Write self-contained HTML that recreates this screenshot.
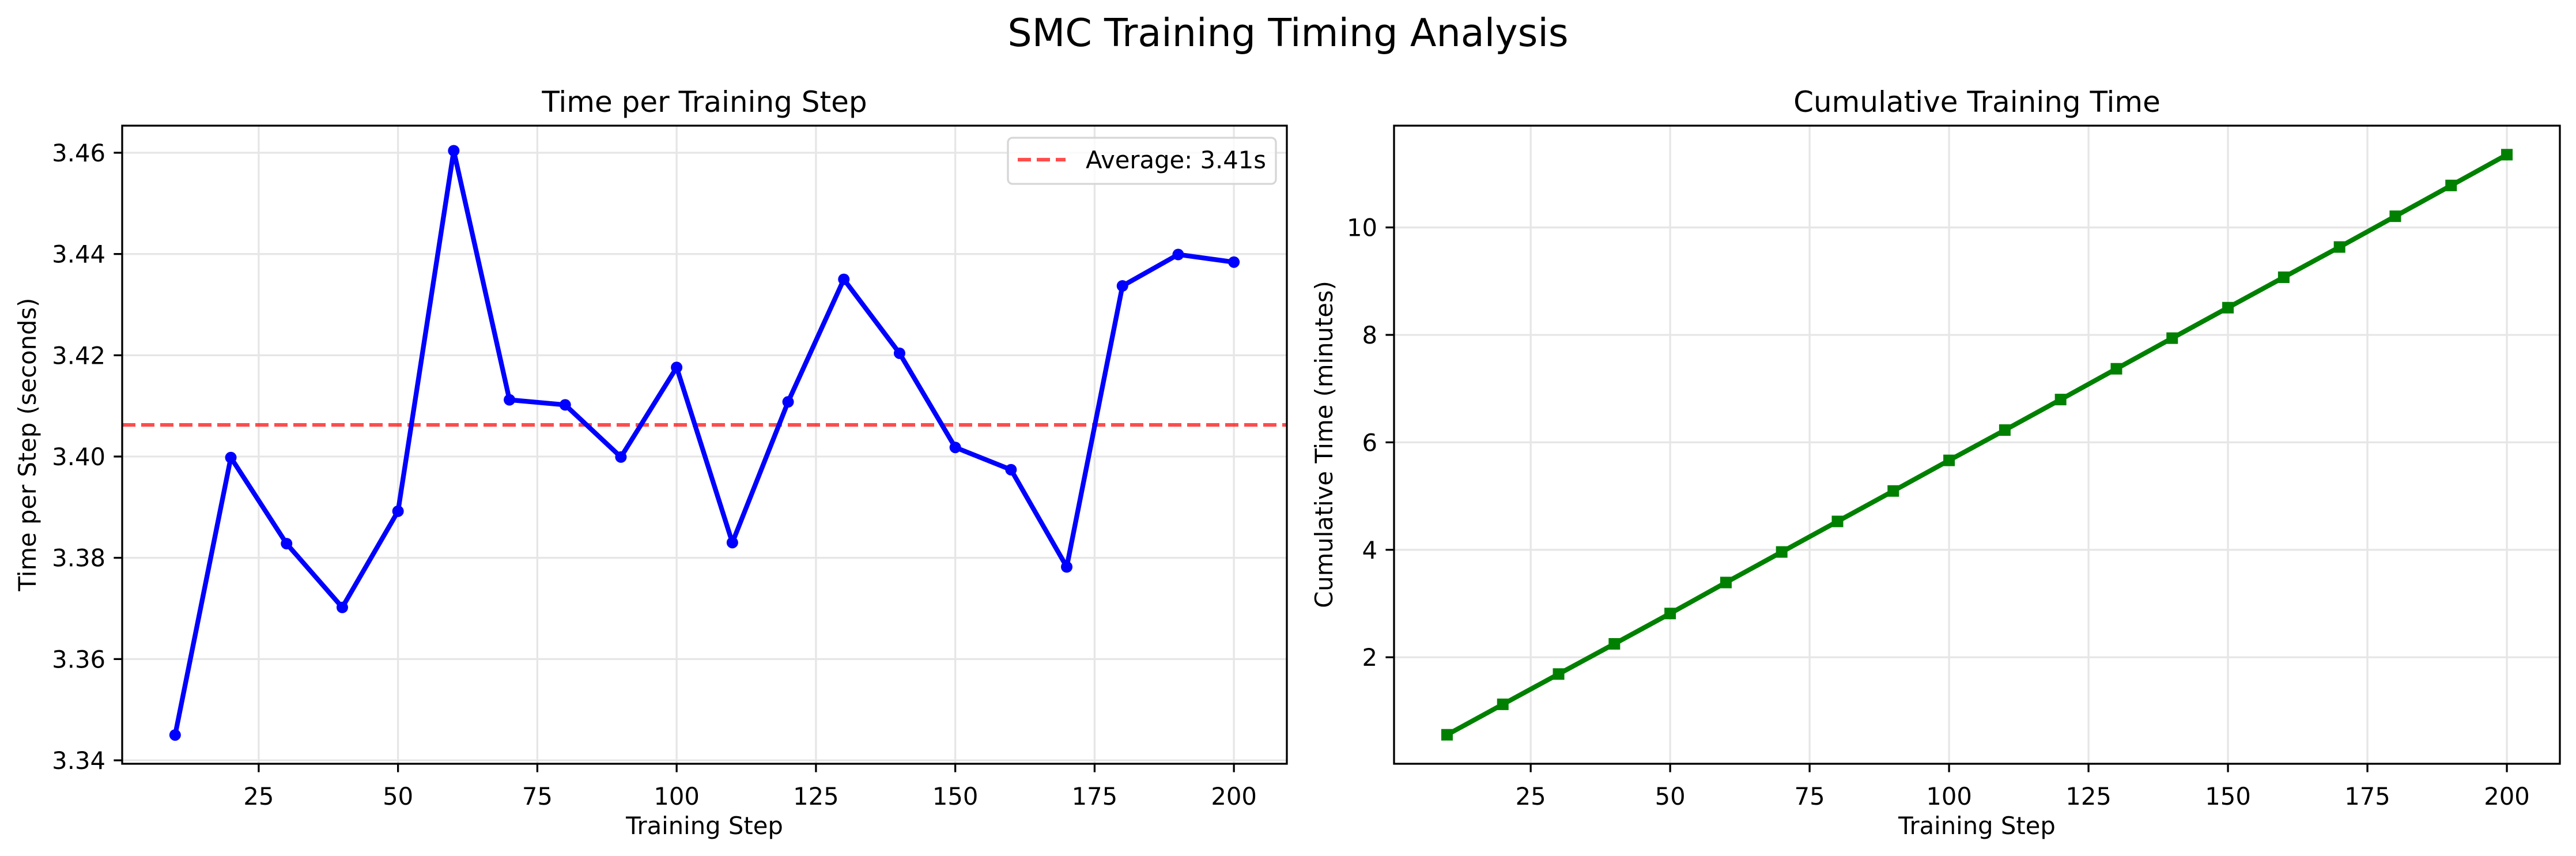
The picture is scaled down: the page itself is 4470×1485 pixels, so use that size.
<!DOCTYPE html>
<html><head><meta charset="utf-8"><style>
html,body{margin:0;padding:0;background:#fff;}
svg{display:block;font-family:"DejaVu Sans","Liberation Sans",sans-serif;}
</style></head><body>
<svg id="fig" width="4470" height="1485" viewBox="0 0 4470 1485" xmlns="http://www.w3.org/2000/svg">
<rect width="4470" height="1485" fill="#fff"/>
<text x="2235" y="80" font-size="66.7" text-anchor="middle">SMC Training Timing Analysis</text>
<g id="p1"></g>
<g id="p2"></g>
</svg>
<script>
const steps = [10,20,30,40,50,60,70,80,90,100,110,120,130,140,150,160,170,180,190,200];
const stepTimes = [3.345,3.3998,3.3828,3.3702,3.3892,3.4604,3.4112,3.4102,3.3999,3.4176,3.3830,3.4108,3.4350,3.4204,3.4018,3.3974,3.3782,3.4337,3.4399,3.4384];
const cumulativeMinutes = [0.5575,1.1241,1.6880,2.2497,2.8145,3.3913,3.9598,4.5282,5.0948,5.6644,6.2283,6.7967,7.3692,7.9393,8.5063,9.0725,9.6355,10.2078,10.7811,11.3541];
const averageTime = 3.40625;
const averageLabel = "Average: 3.41s";
const xTicks = [25,50,75,100,125,150,175,200];
const yTicks1 = [3.34,3.36,3.38,3.40,3.42,3.44,3.46];
const yTickLabels1 = ["3.34","3.36","3.38","3.40","3.42","3.44","3.46"];
const yTicks2 = [2,4,6,8,10];
const yTickLabels2 = ["2","4","6","8","10"];

const NS="http://www.w3.org/2000/svg";
function mk(parent,tag,attrs,txt){const e=document.createElementNS(NS,tag);for(const k in attrs)e.setAttribute(k,attrs[k]);if(txt!==undefined)e.textContent=txt;parent.appendChild(e);return e;}

function panel(g,L,R,T,B,xmin,xmax,ymin,ymax,yt,ytl,title){
  const sx=v=>L+(v-xmin)/(xmax-xmin)*(R-L);
  const sy=v=>B-(v-ymin)/(ymax-ymin)*(B-T);
  for(const t of xTicks){
    const l=mk(g,'line',{x1:sx(t),x2:sx(t),y1:T,y2:B,stroke:'#e6e6e6','stroke-width':3.3});
    
    
  }
  yt.forEach(t=>{
    const l=mk(g,'line',{x1:L,x2:R,y1:sy(t),y2:sy(t),stroke:'#e6e6e6','stroke-width':3.3});
    
    
  });
  for(const t of xTicks){
    const tk=mk(g,'line',{x1:sx(t),x2:sx(t),y1:B,y2:B+14.6,stroke:'#000','stroke-width':3.3});
    
    
    const tl=mk(g,'text',{x:sx(t),y:B+71,'font-size':41.7,'text-anchor':'middle'},String(t));
    
    
  }
  yt.forEach((t,i)=>{
    const tk=mk(g,'line',{x1:L-14.6,x2:L,y1:sy(t),y2:sy(t),stroke:'#000','stroke-width':3.3});
    
    
    const tl=mk(g,'text',{x:L-29,y:sy(t)+15,'font-size':41.7,'text-anchor':'end'},ytl[i]);
    
    
  });
  const tt=mk(g,'text',{x:(L+R)/2,y:T-24,'font-size':50,'text-anchor':'middle'},title);
  
  
  const xl=mk(g,'text',{x:(L+R)/2,y:1447,'font-size':41.7,'text-anchor':'middle'},'Training Step');
  
  
  return {sx,sy};
}
function frame(g,L,R,T,B){
  const f=mk(g,'rect',{x:L,y:T,width:R-L,height:B-T,fill:'none',stroke:'#000','stroke-width':3.3});
  
  
}

// Panel 1
const g1=document.getElementById('p1');
const L1=212,R1=2233,T=218,B=1325;
const a1=panel(g1,L1,R1,T,B,0.5,209.5,3.33932,3.46535,yTicks1,yTickLabels1,'Time per Training Step');
const yl1=mk(g1,'text',{x:0,y:0,'font-size':41.7,'text-anchor':'middle',transform:'translate(62,771) rotate(-90)'},'Time per Step (seconds)');


const avg=mk(g1,'line',{x1:L1,x2:R1,y1:a1.sy(averageTime),y2:a1.sy(averageTime),stroke:'#ff0000','stroke-opacity':0.7,'stroke-width':6.25,'stroke-dasharray':'23 10'});


const line1=mk(g1,'polyline',{points:steps.map((s,i)=>a1.sx(s)+','+a1.sy(stepTimes[i])).join(' '),fill:'none',stroke:'#0000ff','stroke-width':8.3,'stroke-linejoin':'round'});


steps.forEach((s,i)=>{
  const c=mk(g1,'circle',{cx:a1.sx(s),cy:a1.sy(stepTimes[i]),r:10,fill:'#0000ff'});
  
  
});
frame(g1,L1,R1,T,B);
const lg=mk(g1,'g',{});


mk(lg,'rect',{x:1749,y:239,width:465,height:80,rx:8,fill:'#fff','fill-opacity':0.8,stroke:'#d6d6d6','stroke-width':3.3});
mk(lg,'line',{x1:1766,x2:1849,y1:277,y2:277,stroke:'#ff0000','stroke-opacity':0.7,'stroke-width':6.25,'stroke-dasharray':'23 10'});
const lt=mk(lg,'text',{x:1884,y:292,'font-size':41.7},averageLabel);



// Panel 2
const g2=document.getElementById('p2');
const L2=2419,R2=4442;
const a2=panel(g2,L2,R2,T,B,0.5,209.5,0.0177,11.894,yTicks2,yTickLabels2,'Cumulative Training Time');
const yl2=mk(g2,'text',{x:0,y:0,'font-size':41.7,'text-anchor':'middle',transform:'translate(2312,771) rotate(-90)'},'Cumulative Time (minutes)');


const line2=mk(g2,'polyline',{points:steps.map((s,i)=>a2.sx(s)+','+a2.sy(cumulativeMinutes[i])).join(' '),fill:'none',stroke:'#008000','stroke-width':8.3,'stroke-linejoin':'round'});


steps.forEach((s,i)=>{
  const q=mk(g2,'rect',{x:a2.sx(s)-10,y:a2.sy(cumulativeMinutes[i])-10,width:20,height:20,fill:'#008000'});
  
  
});
frame(g2,L2,R2,T,B);
</script>
</body></html>
